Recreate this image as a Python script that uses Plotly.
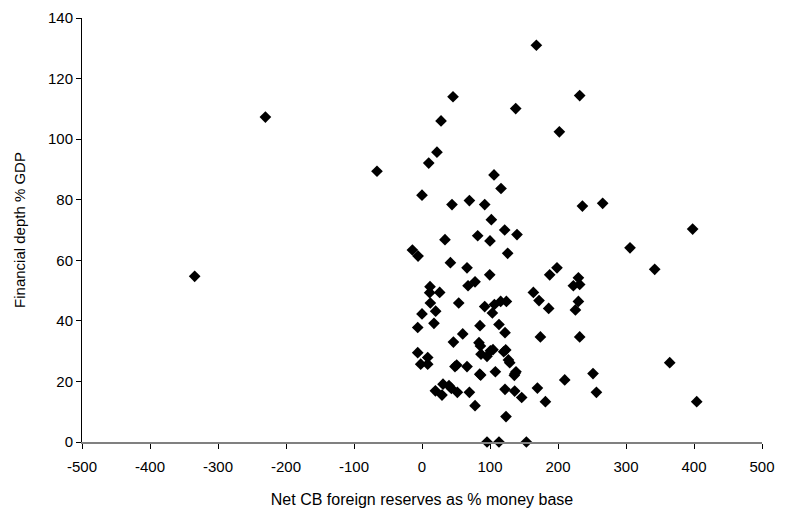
import plotly.graph_objects as go

reserves = [168.2, 45.6, 231.9, 137.8, 28.0, 202.0, 22.0, 9.9, 105.9, 116.2,
            0.0, 44.1, 69.7, 92.2, 235.9, 265.7, 102.0, 121.6, 139.7, 81.9,
            33.8, 100.0, 398.0, 305.9, -14.1, -5.8, 126.0, -230.3, -66.2, -334.3,
            41.8, 66.2, 99.6, 78.0, 67.7, 11.8, 11.3, 26.0, 12.3, 54.0,
            20.1, 0.0, -6.3, 17.6, 92.2, 106.5, 103.5, 115.7, 124.1, 85.3,
            113.2, 122.1, 59.9, 46.2, 83.8, 85.9, 86.8, 95.6, 100.6, 104.4,
            120.1, 123.1, 127.1, 129.0, -6.3, 8.4, -1.9, 8.4, 48.5, 51.0,
            66.2, 84.9, 86.3, 107.9, 136.8, 138.2, 135.8, 30.9, 39.7, 43.2,
            19.7, 29.4, 52.0, 69.7, 122.1, 136.3, 146.6, 78.0, 123.5, 95.6,
            113.2, 153.5, 163.8, 172.1, 186.3, 187.8, 198.5, 230.0, 222.6, 231.9,
            230.0, 225.6, 174.1, 231.9, 342.2, 364.3, 251.5, 209.9, 169.7, 256.5,
            181.5, 404.0]

depth = [131.0, 114.0, 114.4, 110.1, 106.0, 102.4, 95.7, 92.1, 88.2, 83.7,
         81.5, 78.4, 79.7, 78.4, 77.9, 78.8, 73.4, 70.0, 68.5, 68.1,
         66.8, 66.4, 70.3, 64.1, 63.4, 61.4, 62.3, 107.3, 89.4, 54.7,
         59.2, 57.5, 55.2, 52.9, 51.6, 51.3, 49.3, 49.4, 45.9, 45.9,
         43.2, 42.3, 37.8, 39.2, 44.7, 45.4, 42.6, 46.4, 46.4, 38.4,
         38.8, 36.1, 35.7, 33.0, 32.8, 31.7, 29.0, 28.3, 30.1, 30.5,
         29.8, 30.4, 27.1, 26.2, 29.5, 27.9, 25.7, 25.7, 24.9, 25.4,
         24.9, 22.4, 22.1, 23.2, 22.6, 23.2, 22.0, 19.1, 18.6, 17.7,
         16.9, 15.5, 16.4, 16.4, 17.4, 16.8, 14.7, 12.0, 8.4, 0.0,
         0.0, 0.0, 49.4, 46.7, 44.1, 55.2, 57.5, 54.2, 51.6, 52.0,
         46.4, 43.6, 34.7, 34.7, 57.0, 26.2, 22.6, 20.5, 17.8, 16.4,
         13.3, 13.3]

x_ticks = [-500, -400, -300, -200, -100, 0, 100, 200, 300, 400, 500]
y_ticks = [0, 20, 40, 60, 80, 100, 120, 140]

font_family = "Liberation Sans, Arial, sans-serif"

fig = go.Figure()
fig.add_trace(go.Scatter(
    x=reserves, y=depth, mode="markers",
    marker=dict(symbol="diamond", size=9, color="black",
                line=dict(width=0)),
    cliponaxis=False, showlegend=False, hoverinfo="x+y"))

# page body has an 8px default margin, so the figure is sized and placed to compensate
fig.update_layout(
    width=788, height=504,
    margin=dict(l=74, r=34, t=10, b=70),
    paper_bgcolor="white", plot_bgcolor="white",
    font=dict(family=font_family, size=15, color="black"),
    xaxis=dict(range=[-500, 500], tickvals=x_ticks, ticktext=[str(v) for v in x_ticks],
               showgrid=False, zeroline=False, showline=True, linecolor="#808080",
               linewidth=2, ticks="outside", ticklen=5, tickcolor="black", tickwidth=1,
               tickfont=dict(size=15), ticklabelstandoff=5, automargin=False,
               ticklabeloverflow="allow",
               title=dict(text="Net CB foreign reserves as % money base",
                          font=dict(size=16), standoff=20)),
    yaxis=dict(range=[0, 140], tickvals=y_ticks, ticktext=[str(v) for v in y_ticks],
               showgrid=False, zeroline=False, showline=True, linecolor="black",
               linewidth=1, ticks="outside", ticklen=5, tickcolor="black", tickwidth=1,
               tickfont=dict(size=15), automargin=False, ticklabeloverflow="allow",
               title=dict(text="Financial depth % GDP", font=dict(size=15), standoff=18)),
)

fig.write_html("out.html")
